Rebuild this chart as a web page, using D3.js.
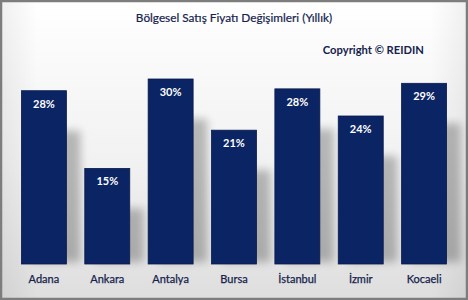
<!DOCTYPE html>
<html>
<head>
<meta charset="utf-8">
<script src="https://cdn.jsdelivr.net/npm/d3@7"></script>
<style>
  html, body { margin: 0; padding: 0; background: #fff; }
  svg { display: block; }
</style>
</head>
<body>
<svg id="chart" width="468" height="300"></svg>
<script>
const cities = ['Adana', 'Ankara', 'Antalya', 'Bursa', 'İstanbul', 'İzmir', 'Kocaeli'];
const values = [28.1, 15.5, 30, 21.7, 28.4, 24, 29.3];
const valueLabels = ['28%', '15%', '30%', '21%', '28%', '24%', '29%'];

const W = 468, H = 300;
const svg = d3.select('#chart');
const defs = svg.append('defs');

// background: white on top, fading to light grey
const bg = defs.append('linearGradient').attr('id', 'bgGrad')
    .attr('x1', '0%').attr('y1', '0%').attr('x2', '0%').attr('y2', '100%');
bg.append('stop').attr('offset', '0%').attr('stop-color', '#ffffff');
bg.append('stop').attr('offset', '55%').attr('stop-color', '#f1f1f1');
bg.append('stop').attr('offset', '100%').attr('stop-color', '#dedede');

const side = defs.append('linearGradient').attr('id', 'sideGrad')
    .attr('x1', '0%').attr('y1', '0%').attr('x2', '100%').attr('y2', '0%');
side.append('stop').attr('offset', '0%').attr('stop-color', '#000').attr('stop-opacity', 0.06);
side.append('stop').attr('offset', '8%').attr('stop-color', '#000').attr('stop-opacity', 0);
side.append('stop').attr('offset', '92%').attr('stop-color', '#000').attr('stop-opacity', 0);
side.append('stop').attr('offset', '100%').attr('stop-color', '#000').attr('stop-opacity', 0.06);

const shadow = defs.append('filter').attr('id', 'barShadow')
    .attr('x', '-20%').attr('y', '-20%').attr('width', '160%').attr('height', '140%');
shadow.append('feGaussianBlur').attr('stdDeviation', 4);

svg.append('rect').attr('width', W).attr('height', H).attr('fill', 'url(#bgGrad)');
svg.append('rect').attr('width', W).attr('height', H).attr('fill', 'url(#sideGrad)');

// frame
svg.append('rect').attr('x', 1).attr('y', 1).attr('width', W - 2).attr('height', H - 2)
    .attr('fill', 'none').attr('stroke', '#7d7d7d').attr('stroke-width', 2.5);

const x = d3.scaleBand().domain(cities).range([10, 458]).paddingInner(0.29).paddingOuter(0.18);
const y = d3.scaleLinear().domain([0, 30]).range([264, 79]);

const g = svg.append('g');

// soft shadows behind bars
g.selectAll('rect.shadow').data(values).join('rect')
    .attr('class', 'shadow')
    .attr('x', (d, i) => x(cities[i]) + 10)
    .attr('y', d => y(d) + 40)
    .attr('width', x.bandwidth() + 4)
    .attr('height', d => y(0) - y(d) - 42)
    .attr('fill', '#000')
    .attr('opacity', 0.25)
    .attr('filter', 'url(#barShadow)');

g.selectAll('rect.bar').data(values).join('rect')
    .attr('class', 'bar')
    .attr('x', (d, i) => x(cities[i]))
    .attr('y', d => y(d))
    .attr('width', x.bandwidth())
    .attr('height', d => y(0) - y(d))
    .attr('fill', '#0b2463')
    .attr('stroke', '#081b4d')
    .attr('stroke-width', 0.8);

g.selectAll('text.val').data(valueLabels).join('text')
    .attr('class', 'val')
    .attr('x', (d, i) => x(cities[i]) + x.bandwidth() / 2)
    .attr('y', (d, i) => y(values[i]) + 17)
    .attr('text-anchor', 'middle')
    .attr('font-family', 'Lato, "Open Sans", sans-serif')
    .attr('font-weight', 'bold')
    .attr('font-size', 11)
    .attr('fill', '#ffffff')
    .text(d => d);

const xAxis = svg.append('g')
    .attr('transform', 'translate(0,275)')
    .call(d3.axisBottom(x).tickSize(0).tickPadding(0));
xAxis.select('.domain').remove();
xAxis.selectAll('text')
    .attr('dy', '0.71em')
    .attr('font-family', 'Lato, "Open Sans", sans-serif')
    .attr('font-size', 11)
    .attr('fill', '#14224d')
    .attr('stroke', '#14224d')
    .attr('stroke-width', 0.25);

svg.append('text')
    .attr('x', 234).attr('y', 22)
    .attr('text-anchor', 'middle')
    .attr('font-family', 'Lato, "Open Sans", sans-serif')
    .attr('font-size', 11.8)
    .attr('fill', '#14224d')
    .attr('stroke', '#14224d')
    .attr('stroke-width', 0.2)
    .text('Bölgesel Satış Fiyatı Değişimleri (Yıllık)');

svg.append('text')
    .attr('x', 424).attr('y', 54)
    .attr('text-anchor', 'end')
    .attr('font-family', 'Lato, "Open Sans", sans-serif')
    .attr('font-weight', 'bold')
    .attr('font-size', 11.2)
    .attr('fill', '#14224d')
    .text('Copyright © REIDIN');
</script>
</body>
</html>
